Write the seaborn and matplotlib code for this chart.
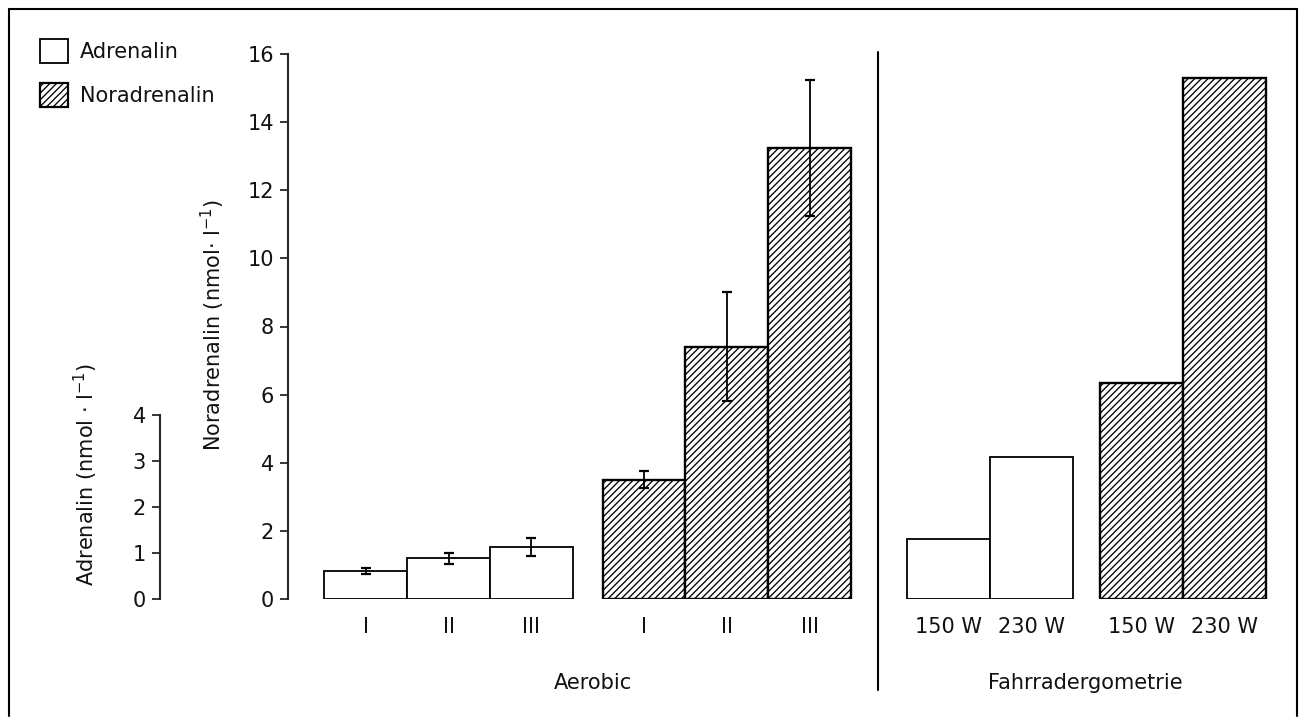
import numpy as np
import pandas as pd
import matplotlib.pyplot as plt
import seaborn as sns
from matplotlib.patches import Patch
from matplotlib.lines import Line2D

# -------------------------------------------------------
# DATA
# -------------------------------------------------------
aerobic_levels = ["I", "II", "III"]
ergo_levels = ["150 W", "230 W"]

adr_aerobic = [0.61, 0.89, 1.13]
adr_aerobic_err = [0.07, 0.12, 0.20]
nor_aerobic = [3.5, 7.4, 13.25]
nor_aerobic_err = [0.25, 1.6, 2.0]

adr_ergo = [1.3, 3.09]
nor_ergo = [6.35, 15.3]

nor_ticks = [0, 2, 4, 6, 8, 10, 12, 14, 16]
adr_ticks = [0, 1, 2, 3, 4]

# -------------------------------------------------------
# STYLE
# -------------------------------------------------------
sns.set_style("ticks")
plt.rcParams["font.family"] = ["DejaVu Sans"]
plt.rcParams["mathtext.fontset"] = "dejavusans"
plt.rcParams["hatch.linewidth"] = 0.95
plt.rcParams["hatch.color"] = "#1a1a1a"
HATCH = "/////"
FS = 15
INK = "#111111"

W, H = 1300, 717
fig = plt.figure(figsize=(W / 100, H / 100), dpi=100)


def fx(px):
    return px / W


def fy(py):
    return 1 - py / H


# main axes: noradrenalin scale, 0 at y=599 px, 16 at y=54 px
ax = fig.add_axes([fx(288), fy(599), fx(1290) - fx(288), fy(54) - fy(599)])
ax_adr = ax.twinx()

# bar slots (one unit = one bar width)
pos_adr_aer = np.arange(3) + 0.0
pos_nor_aer = np.arange(3) + 3.36
pos_adr_ergo = np.arange(2) + 7.04
pos_nor_ergo = np.arange(2) + 9.37

df_nor = pd.DataFrame({
    "pos": np.concatenate([pos_nor_aer, pos_nor_ergo]),
    "value": nor_aerobic + nor_ergo,
})
df_adr = pd.DataFrame({
    "pos": np.concatenate([pos_adr_aer, pos_adr_ergo]),
    "value": adr_aerobic + adr_ergo,
})

sns.barplot(data=df_nor, x="pos", y="value", native_scale=True, orient="x",
            width=1, color="white", saturation=1, edgecolor="black",
            linewidth=1.7, hatch=HATCH, errorbar=None, ax=ax)
sns.barplot(data=df_adr, x="pos", y="value", native_scale=True, orient="x",
            width=1, color="white", saturation=1, edgecolor="black",
            linewidth=1.3, errorbar=None, ax=ax_adr)

ax.errorbar(pos_nor_aer, nor_aerobic, yerr=nor_aerobic_err, fmt="none",
            ecolor="black", elinewidth=1.3, capsize=3.5, capthick=1.6,
            zorder=5, clip_on=False)
ax_adr.errorbar(pos_adr_aer, adr_aerobic, yerr=adr_aerobic_err, fmt="none",
                ecolor="black", elinewidth=1.3, capsize=3.5, capthick=1.6,
                zorder=5, clip_on=False)

# scales
ax.set_xlim(-0.94, 11.16)
ax.set_ylim(0, 16)
ax_adr.set_ylim(0, (599 - 54) / 46.0)

# x tick labels
ax.set_xticks(np.concatenate([pos_adr_aer, pos_nor_aer, pos_adr_ergo, pos_nor_ergo]))
ax.set_xticklabels(aerobic_levels * 2 + ergo_levels * 2)
ax.tick_params(axis="x", length=0, pad=13, labelsize=FS, labelcolor=INK)
ax.set_xlabel("")
ax_adr.set_xlabel("")

# noradrenalin axis
ax.set_yticks(nor_ticks)
ax.tick_params(axis="y", direction="out", length=6, width=1.3, pad=4,
               labelsize=FS, labelcolor=INK)
ax.set_ylabel("")
for s in ["top", "right", "bottom"]:
    ax.spines[s].set_visible(False)
ax.spines["left"].set_bounds(0, 16)
ax.spines["left"].set_linewidth(1.5)

# adrenalin axis, moved out to the left
ax_adr.yaxis.tick_left()
ax_adr.set_yticks(adr_ticks)
ax_adr.tick_params(axis="y", direction="out", length=6, width=1.3, pad=4,
                   labelsize=FS, labelcolor=INK)
ax_adr.set_ylabel("")
for s in ["top", "right", "bottom"]:
    ax_adr.spines[s].set_visible(False)
ax_adr.spines["left"].set_visible(True)
ax_adr.spines["left"].set_position(("axes", (160 - 288) / (1290 - 288)))
ax_adr.spines["left"].set_bounds(0, 4)
ax_adr.spines["left"].set_linewidth(1.5)

# axis titles
fig.text(fx(213), fy(325), r"Noradrenalin (nmol$\cdot$ l$^{-1}$)", rotation=90,
         ha="center", va="center", fontsize=FS, color=INK)
fig.text(fx(86), fy(474), r"Adrenalin (nmol $\cdot$ l$^{-1}$)", rotation=90,
         ha="center", va="center", fontsize=FS, color=INK)

# group titles
fig.text(fx(593), fy(683), "Aerobic", ha="center", va="center", fontsize=FS, color=INK)
fig.text(fx(1085), fy(683), "Fahrradergometrie", ha="center", va="center",
         fontsize=FS, color=INK)

# divider and frame
fig.add_artist(Line2D([fx(878), fx(878)], [fy(52), fy(690)], color="black", lw=1.5))
fig.add_artist(Line2D([fx(9), fx(9)], [fy(9), fy(716)], color="black", lw=1.5))
fig.add_artist(Line2D([fx(9), fx(1297)], [fy(9), fy(9)], color="black", lw=1.5))
fig.add_artist(Line2D([fx(1297), fx(1297)], [fy(9), fy(716)], color="black", lw=1.5))

# legend
handles = [
    Patch(facecolor="white", edgecolor="black", linewidth=1.3, label="Adrenalin"),
    Patch(facecolor="white", edgecolor="black", linewidth=1.6, hatch=HATCH,
          label="Noradrenalin"),
]
fig.legend(handles=handles, loc="upper left", bbox_to_anchor=(fx(40), fy(39)),
           frameon=False, fontsize=FS, borderpad=0, borderaxespad=0,
           handlelength=1.35, handleheight=1.42, handletextpad=0.55,
           labelspacing=0.95, labelcolor=INK)

fig.savefig("out.png", dpi=100)
